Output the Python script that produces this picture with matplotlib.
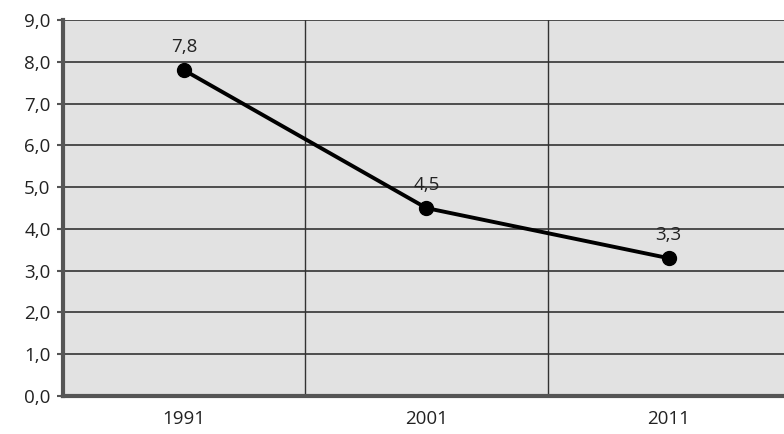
import numpy as np
import matplotlib.pyplot as plt
from matplotlib.ticker import FuncFormatter

years = ['1991', '2001', '2011']
values = [7.8, 4.5, 3.3]
y_ticks = np.arange(0, 9.5, 1.0)


def comma(v, pos=None):
    return f'{v:.1f}'.replace('.', ',')


def main():
    plt.rcParams['font.family'] = ['Open Sans', 'DejaVu Sans']
    fig = plt.figure(figsize=(7.84, 4.34), dpi=100)
    ax = fig.add_axes([0.0804, 0.0876, 0.927, 0.866])
    ax.set_facecolor('#e2e2e2')

    x = np.arange(len(years)) + 0.5
    ax.plot(x, values, color='black', linewidth=2.8, marker='o',
            markersize=10, zorder=3)
    for xi, v in zip(x, values):
        ax.annotate(comma(v), (xi, v), xytext=(0, 10), textcoords='offset points',
                    ha='center', va='bottom', fontsize=13.5, color='#222222')

    ax.set_xlim(0, len(years))
    ax.set_ylim(0, 9)
    ax.set_yticks(y_ticks)
    ax.yaxis.set_major_formatter(FuncFormatter(comma))
    ax.set_xticks(x)
    ax.set_xticklabels(years)
    ax.set_xticks(np.arange(1, len(years)), minor=True)

    ax.grid(axis='y', which='major', color='#333333', linewidth=1.2)
    ax.grid(axis='x', which='minor', color='#333333', linewidth=1.0)
    ax.set_axisbelow(True)

    for side in ['top', 'right']:
        ax.spines[side].set_visible(False)
    ax.spines['left'].set_color('#555555')
    ax.spines['left'].set_linewidth(3)
    ax.spines['bottom'].set_color('#555555')
    ax.spines['bottom'].set_linewidth(3)

    ax.tick_params(axis='y', length=4, width=1.5, color='#555555',
                   labelsize=13.5, pad=5, labelcolor='#222222')
    ax.tick_params(axis='x', which='both', length=0, labelsize=13.5, pad=10,
                   labelcolor='#222222')

    fig.savefig('out.png', dpi=100)


if __name__ == '__main__':
    main()
